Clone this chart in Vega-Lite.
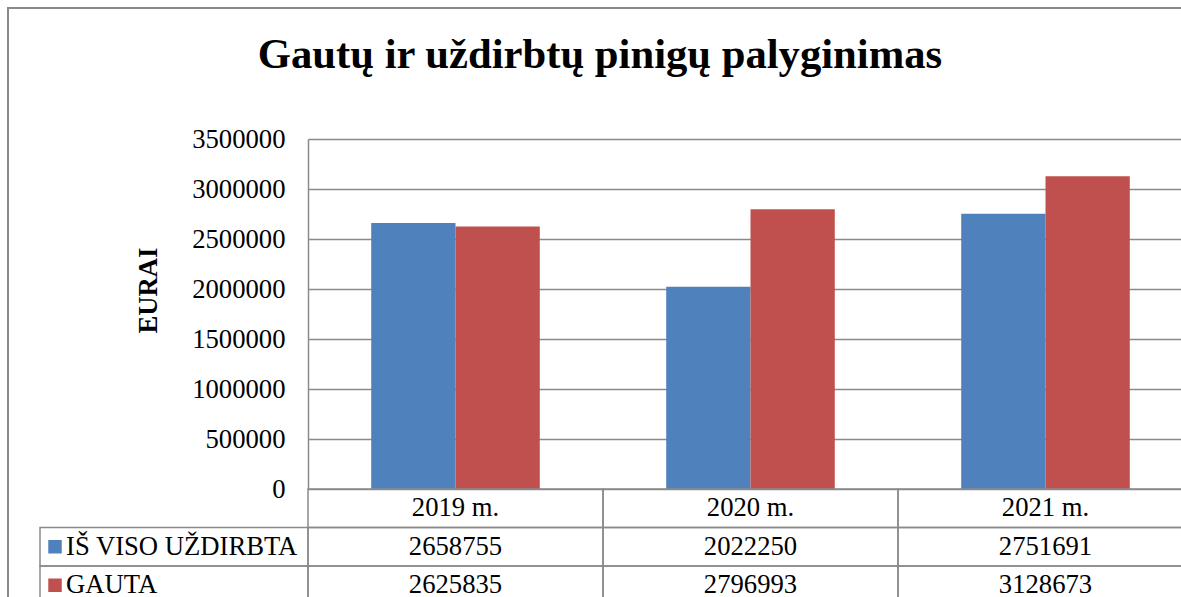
{
  "$schema": "https://vega.github.io/schema/vega-lite/v6.json",
  "autosize": {"type": "none"},
  "width": 1174,
  "height": 590,
  "padding": {"left": 8, "top": 8, "right": 0, "bottom": 0},
  "background": "white",
  "title": {
    "text": "Gautų ir uždirbtų pinigų palyginimas",
    "font": "Liberation Serif",
    "fontSize": 42.67,
    "fontWeight": "bold",
    "color": "black",
    "anchor": "middle",
    "frame": "group",
    "baseline": "middle",
    "offset": -90,
    "dx": 5
  },
  "datasets": {
    "vals": [
      {"year": "2019 m.", "series": "IŠ VISO UŽDIRBTA", "value": 2658755},
      {"year": "2019 m.", "series": "GAUTA", "value": 2625835},
      {"year": "2020 m.", "series": "IŠ VISO UŽDIRBTA", "value": 2022250},
      {"year": "2020 m.", "series": "GAUTA", "value": 2796993},
      {"year": "2021 m.", "series": "IŠ VISO UŽDIRBTA", "value": 2751691},
      {"year": "2021 m.", "series": "GAUTA", "value": 3128673}
    ],
    "years": [
      {"year": "2019 m."},
      {"year": "2020 m."},
      {"year": "2021 m."}
    ],
    "series": [
      {"series": "IŠ VISO UŽDIRBTA"},
      {"series": "GAUTA"}
    ]
  },
  "layer": [
    {
      "data": {"name": "vals"},
      "mark": {"type": "bar"},
      "encoding": {
        "x": {"field": "year", "type": "nominal", "scale": {"domain": ["2019 m.", "2020 m.", "2021 m."], "range": [300, 1185], "paddingInner": 0, "paddingOuter": 0}, "axis": null},
        "xOffset": {"field": "series", "type": "nominal", "scale": {"domain": ["IŠ VISO UŽDIRBTA", "GAUTA"], "paddingInner": 0, "paddingOuter": 0.75}},
        "y": {
          "field": "value", "type": "quantitative",
          "scale": {"domain": [0, 3500000], "range": [481, 131], "nice": false, "zero": true},
          "axis": {
            "values": [0, 500000, 1000000, 1500000, 2000000, 2500000, 3000000, 3500000],
            "format": "d",
            "offset": -300,
            "grid": true,
            "gridColor": "#8a8a8a",
            "gridWidth": 1.5,
            "domain": true,
            "domainColor": "#8a8a8a",
            "domainWidth": 1.5,
            "ticks": false,
            "tickSize": 0,
            "labelPadding": 23,
            "labelFont": "Liberation Serif",
            "labelFontSize": 26.67,
            "labelColor": "black",
            "title": "EURAI",
            "titleFont": "Liberation Serif",
            "titleFontSize": 26.67,
            "titleFontWeight": "bold",
            "titleColor": "black",
            "titleX": -160,
            "titleY": 282,
            "titleBaseline": "middle",
            "titleAlign": "center",
            "titleAngle": -90
          }
        },
        "color": {"field": "series", "type": "nominal", "scale": {"domain": ["IŠ VISO UŽDIRBTA", "GAUTA"], "range": ["#4F81BD", "#C0504D"]}, "legend": null}
      }
    },
    {
      "data": {"name": "years"},
      "mark": {"type": "rect", "fill": "transparent", "stroke": "#8a8a8a", "strokeWidth": 1.5},
      "encoding": {
        "x": {"field": "year", "type": "nominal", "scale": {"domain": ["2019 m.", "2020 m.", "2021 m."], "range": [300, 1185], "paddingInner": 0, "paddingOuter": 0}, "axis": null},
        "y": {"datum": "hdr", "type": "nominal", "scale": {"domain": ["hdr", "IŠ VISO UŽDIRBTA", "GAUTA"], "range": [481, 596.5], "paddingInner": 0, "paddingOuter": 0}, "axis": null}
      }
    },
    {
      "data": {"name": "vals"},
      "mark": {"type": "rect", "fill": "transparent", "stroke": "#8a8a8a", "strokeWidth": 1.5},
      "encoding": {
        "x": {"field": "year", "type": "nominal", "scale": {"domain": ["2019 m.", "2020 m.", "2021 m."], "range": [300, 1185], "paddingInner": 0, "paddingOuter": 0}, "axis": null},
        "y": {"field": "series", "type": "nominal", "scale": {"domain": ["hdr", "IŠ VISO UŽDIRBTA", "GAUTA"], "range": [481, 596.5], "paddingInner": 0, "paddingOuter": 0}, "axis": null}
      }
    },
    {
      "data": {"name": "years"},
      "mark": {"type": "text", "font": "Liberation Serif", "fontSize": 26.67, "color": "black", "baseline": "middle", "align": "center"},
      "encoding": {
        "x": {"field": "year", "type": "nominal", "scale": {"domain": ["2019 m.", "2020 m.", "2021 m."], "range": [300, 1185], "paddingInner": 0, "paddingOuter": 0}, "axis": null},
        "y": {"datum": "hdr", "type": "nominal", "scale": {"domain": ["hdr", "IŠ VISO UŽDIRBTA", "GAUTA"], "range": [481, 596.5], "paddingInner": 0, "paddingOuter": 0}, "axis": null},
        "text": {"field": "year", "type": "nominal"}
      }
    },
    {
      "data": {"name": "vals"},
      "mark": {"type": "text", "font": "Liberation Serif", "fontSize": 26.67, "color": "black", "baseline": "middle", "align": "center"},
      "encoding": {
        "x": {"field": "year", "type": "nominal", "scale": {"domain": ["2019 m.", "2020 m.", "2021 m."], "range": [300, 1185], "paddingInner": 0, "paddingOuter": 0}, "axis": null},
        "y": {"field": "series", "type": "nominal", "scale": {"domain": ["hdr", "IŠ VISO UŽDIRBTA", "GAUTA"], "range": [481, 596.5], "paddingInner": 0, "paddingOuter": 0}, "axis": null},
        "text": {"field": "value", "type": "quantitative", "format": "d"}
      }
    },
    {
      "data": {"name": "series"},
      "mark": {"type": "rect", "fill": "transparent", "stroke": "#8a8a8a", "strokeWidth": 1.5},
      "encoding": {
        "x": {"datum": "L", "type": "nominal", "scale": {"domain": ["L"], "range": [32, 300], "paddingInner": 0, "paddingOuter": 0}, "axis": null},
        "y": {"field": "series", "type": "nominal", "scale": {"domain": ["hdr", "IŠ VISO UŽDIRBTA", "GAUTA"], "range": [481, 596.5], "paddingInner": 0, "paddingOuter": 0}, "axis": null}
      }
    },
    {
      "data": {"name": "series"},
      "mark": {"type": "square", "size": 182, "opacity": 1, "filled": true, "xOffset": 15},
      "encoding": {
        "x": {"datum": 0, "type": "quantitative", "scale": {"domain": [0, 1], "range": [32, 300]}, "axis": null},
        "y": {"field": "series", "type": "nominal", "scale": {"domain": ["hdr", "IŠ VISO UŽDIRBTA", "GAUTA"], "range": [481, 596.5], "paddingInner": 0, "paddingOuter": 0}, "axis": null},
        "color": {"field": "series", "type": "nominal", "scale": {"domain": ["IŠ VISO UŽDIRBTA", "GAUTA"], "range": ["#4F81BD", "#C0504D"]}, "legend": null}
      }
    },
    {
      "data": {"name": "series"},
      "mark": {"type": "text", "font": "Liberation Serif", "fontSize": 26.67, "color": "black", "baseline": "middle", "align": "left", "dx": 26},
      "encoding": {
        "x": {"datum": 0, "type": "quantitative", "scale": {"domain": [0, 1], "range": [32, 300]}, "axis": null},
        "y": {"field": "series", "type": "nominal", "scale": {"domain": ["hdr", "IŠ VISO UŽDIRBTA", "GAUTA"], "range": [481, 596.5], "paddingInner": 0, "paddingOuter": 0}, "axis": null},
        "text": {"field": "series", "type": "nominal"}
      }
    }
  ],
  "resolve": {"scale": {"x": "independent", "y": "independent", "color": "independent", "xOffset": "independent"}},
  "config": {
    "font": "Liberation Serif",
    "view": {"stroke": "#8a8a8a", "strokeWidth": 2}
  }
}
